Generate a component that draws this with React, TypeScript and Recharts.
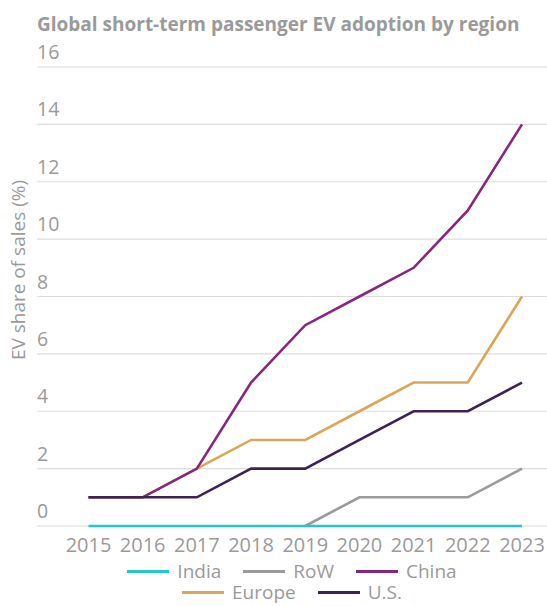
import React from 'react';
import { LineChart, Line, XAxis, YAxis, CartesianGrid } from 'recharts';

// EV share of sales (%) by region
const years = ['2015', '2016', '2017', '2018', '2019', '2020', '2021', '2022', '2023'];
const india = [0, 0, 0, 0, 0, 0, 0, 0, 0];
const restOfWorld = [null, null, null, null, 0, 1, 1, 1, 2];
const china = [1, 1, 2, 5, 7, 8, 9, 11, 14];
const europe = [1, 1, 2, 3, 3, 4, 5, 5, 8];
const us = [1, 1, 1, 2, 2, 3, 4, 4, 5];
const yTicks = [0, 2, 4, 6, 8, 10, 12, 14, 16];

const series = [
  { key: 'india', name: 'India', color: '#22c9c4', values: india },
  { key: 'row', name: 'RoW', color: '#9b9b9b', values: restOfWorld },
  { key: 'china', name: 'China', color: '#87267f', values: china },
  { key: 'europe', name: 'Europe', color: '#dba658', values: europe },
  { key: 'us', name: 'U.S.', color: '#3b2454', values: us },
];

// draw order so overlapping segments stack like the original
const drawOrder = ['europe', 'china', 'us', 'row', 'india'];

const data = years.map((year, i) => {
  const row: Record<string, any> = { year };
  series.forEach(s => { row[s.key] = s.values[i]; });
  return row;
});

const W = 547;
const H = 606;
const PLOT_LEFT = 37;
const PLOT_TOP = 67;
const PLOT_BOTTOM = 526;
const FONT = '"Open Sans", sans-serif';
const TEXT_GREY = '#9a9a9a';

const YTick = (props: any) => (
  <text x={PLOT_LEFT} y={props.y - 8} fill={TEXT_GREY} fontSize={19.5} fontFamily={FONT} textAnchor="start">
    {props.payload.value}
  </text>
);

const XTick = (props: any) => (
  <text x={props.x} y={PLOT_BOTTOM + 26} fill={TEXT_GREY} fontSize={20} fontFamily={FONT} textAnchor="middle">
    {props.payload.value}
  </text>
);

const YLabel = () => (
  <text
    x={18}
    y={270}
    transform="rotate(-90, 18, 270)"
    fill={TEXT_GREY}
    fontSize={19}
    fontFamily={FONT}
    textAnchor="middle"
    dominantBaseline="central"
  >
    EV share of sales (%)
  </text>
);

const legendRows = [['india', 'row', 'china'], ['europe', 'us']];

const App = () => {
  return (
    <div style={{ position: 'absolute', left: 0, top: 0, width: W, height: H, background: '#fff', fontFamily: FONT }}>
      <div
        style={{
          position: 'absolute',
          left: PLOT_LEFT,
          top: 11,
          fontSize: 19,
          fontWeight: 700,
          color: TEXT_GREY,
          whiteSpace: 'nowrap',
        }}
      >
        Global short-term passenger EV adoption by region
      </div>

      <LineChart
        width={W}
        height={H}
        data={data}
        margin={{ top: PLOT_TOP, right: 0, left: 0, bottom: H - PLOT_BOTTOM - 40 }}
      >
        <CartesianGrid vertical={false} stroke="#dcdcdc" strokeWidth={1.2} />
        <XAxis
          dataKey="year"
          height={40}
          padding={{ left: 51.5, right: 25 }}
          axisLine={false}
          tickLine={false}
          tick={<XTick />}
          interval={0}
        />
        <YAxis
          width={PLOT_LEFT}
          domain={[0, 16]}
          ticks={yTicks}
          axisLine={false}
          tickLine={false}
          tick={<YTick />}
          label={<YLabel />}
        />
        {drawOrder.map(k => {
          const s = series.find(x => x.key === k)!;
          return (
            <Line
              key={s.key}
              dataKey={s.key}
              name={s.name}
              type="linear"
              stroke={s.color}
              strokeWidth={2.6}
              dot={false}
              activeDot={false}
              isAnimationActive={false}
            />
          );
        })}
      </LineChart>

      {/* legend, two centred rows */}
      {legendRows.map((rowKeys, r) => (
        <div
          key={r}
          style={{
            position: 'absolute',
            left: PLOT_LEFT,
            width: W - PLOT_LEFT,
            top: r === 0 ? 561 : 582,
            height: 20,
            display: 'flex',
            justifyContent: 'center',
            alignItems: 'center',
          }}
        >
          {rowKeys.map(k => {
            const s = series.find(x => x.key === k)!;
            return (
              <div key={k} style={{ display: 'flex', alignItems: 'center', margin: '0 11px' }}>
                <div style={{ width: 42, height: 3, background: s.color, marginRight: 8 }} />
                <span style={{ fontSize: 19, color: TEXT_GREY, lineHeight: '20px' }}>{s.name}</span>
              </div>
            );
          })}
        </div>
      ))}
    </div>
  );
};

export default App;
